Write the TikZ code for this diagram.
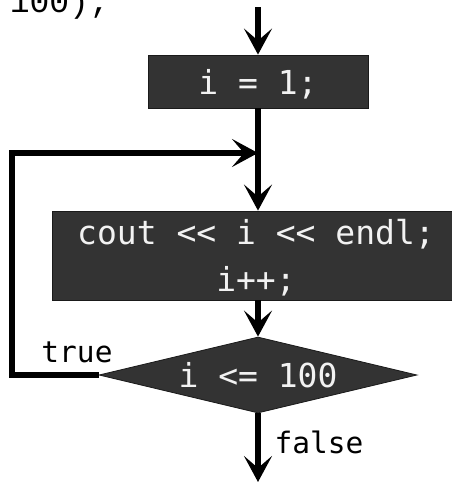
\documentclass[tikz,border=0pt]{standalone}
\usepackage{fontspec}
\usetikzlibrary{arrows.meta,shapes.geometric}
\newfontfamily\codefont{DejaVu Sans Mono}
\newfontfamily\courfont{Liberation Mono}
\definecolor{boxfill}{HTML}{333333}
\definecolor{boxline}{HTML}{1A1A1A}
\definecolor{boxtext}{HTML}{F2F2F2}
\tikzset{
  procbox/.style={rectangle, fill=boxfill, draw=boxline, line width=0.8pt, text=boxtext,
    font=\codefont\fontsize{33}{47}\selectfont, align=center, inner sep=0pt, text depth=0pt},
  decbox/.style={diamond, fill=boxfill, draw=boxline, line width=0.8pt, text=boxtext,
    font=\codefont\fontsize{33}{40}\selectfont, inner sep=0pt, aspect=4.18, text depth=0pt,
    minimum width=318pt, minimum height=76pt},
  lbl/.style={font=\codefont\fontsize{29.5}{35}\selectfont, text=black, inner sep=0pt},
  arr/.style={line width=5.5pt, -{Stealth[length=26pt,width=28pt,inset=12pt]}}
}
\begin{document}
\begin{tikzpicture}[x=1pt,y=-1pt]
\useasboundingbox (0,0) rectangle (451,490);
\node[anchor=base east, inner sep=0pt, font=\courfont\fontsize{33}{40}\selectfont] (prev) at (109,12) {100);};
\coordinate (top) at (258,7);
\node[procbox, minimum width=220pt, minimum height=53pt] (init) at (258,81.5) {i = 1;};
\node[procbox, minimum width=408pt, minimum height=89pt] (body) at (256,255.5) {cout << i << endl;\\i++;};
\node[decbox] (cond) at (258,375) {i <= 100};
\coordinate (join) at (258,153);
\coordinate (lt) at (12,153);
\coordinate (bot) at (258,482);
\node[lbl] (t) at (77,352) {true};
\node[lbl] (f) at (319,442) {false};
\draw[arr] (top) -- (init.north);
\draw[arr] (init.south) -- (init.south |- body.north);
\draw[arr] (body.south -| cond.north) -- (cond.north);
\draw[arr] (cond.west) -| (lt) -- (join);
\draw[arr] (cond.south) -- (bot);
\end{tikzpicture}
\end{document}
